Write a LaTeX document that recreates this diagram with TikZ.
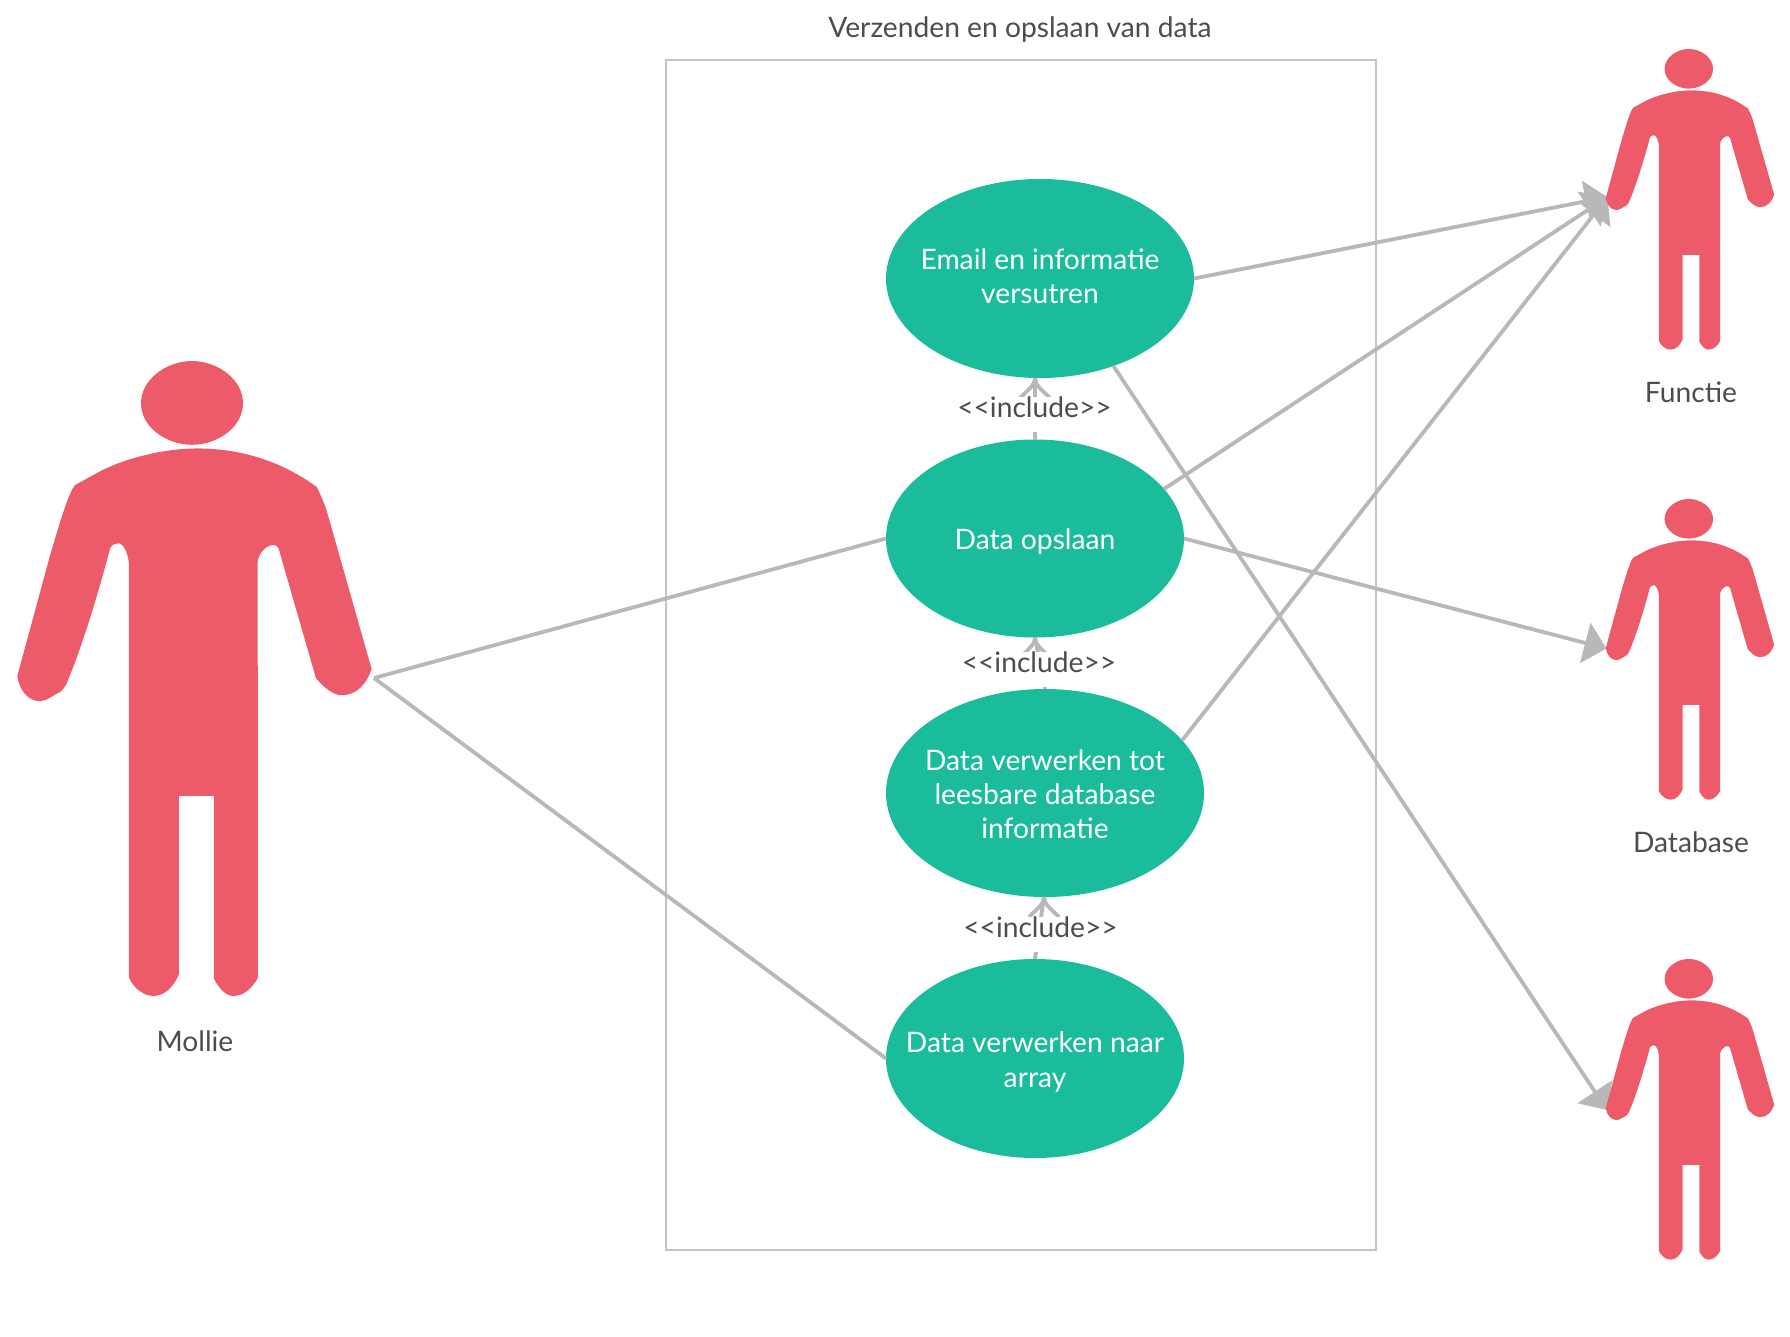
\documentclass[tikz,border=0pt]{standalone}
\usepackage{fontspec}
\setmainfont{Lato}
\usetikzlibrary{arrows.meta,shapes.geometric,calc}
\definecolor{actorred}{HTML}{ED5B6B}
\definecolor{casegreen}{HTML}{1ABC9C}
\definecolor{linegrey}{HTML}{B8B8B8}
\definecolor{boxgrey}{HTML}{C4C4C4}
\definecolor{textgrey}{HTML}{4D4D4D}
\tikzset{
  x=1pt,y=-1pt,
  usecase/.style={ellipse,fill=casegreen,inner sep=0pt,outer sep=0pt},
  casetext/.style={text=white,inner sep=0pt,align=center,font=\fontsize{28.2}{34.2}\selectfont},
  lab/.style={text=textgrey,inner sep=0pt,align=center,font=\fontsize{28.2}{34.2}\selectfont},
  inclab/.style={lab,fill=white,minimum height=35pt,inner xsep=4pt},
  conn/.style={draw=linegrey,line width=3.8pt},
  assoc/.style={conn,-{Triangle[length=22pt,width=41pt]},shorten >=0pt},
  wingline/.style={draw=linegrey,line width=3.8pt,line cap=butt},
  actorshape/.pic={
    \fill[actorred] (423,137) .. controls (423,85) and (500,45) .. (576,45) .. controls (652,45) and (729,85) .. (729,137) .. controls (729,190) and (652,228) .. (576,228) .. controls (500,228) and (423,190) .. (423,137) -- cycle;
    \fill[actorred] (225,316) -- (295,288) .. controls (380,255) and (500,236) .. (590,236) .. controls (720,236) and (840,262) .. (950,320) .. controls (960,335) and (970,350) .. (980,372) -- (1115,718) .. controls (1100,750) and (1070,775) .. (1025,775) .. controls (995,775) and (965,752) .. (948,738) -- (836,455) .. controls (830,440) and (785,445) .. (773,482) -- (774,1392) .. controls (755,1417) and (730,1432) .. (700,1432) .. controls (675,1432) and (655,1412) .. (642,1395) -- (642,995) -- (537,995) -- (537,1385) .. controls (520,1412) and (495,1432) .. (460,1432) .. controls (430,1432) and (400,1414) .. (387,1392) -- (387,490) .. controls (385,465) and (370,443) .. (355,443) .. controls (345,443) and (335,447) .. (331,453) .. controls (290,565) and (245,670) .. (205,740) .. controls (195,760) and (185,765) .. (180,768) .. controls (160,775) and (140,788) .. (120,788) .. controls (85,788) and (58,765) .. (52,733) -- (150,470) .. controls (185,385) and (205,335) .. (225,316) -- cycle;
  }
}
\newcommand{\wings}[1]{%
  \draw[wingline] (#1) .. controls ($(#1)+(0,7)$) and ($(#1)+(-6,11)$) .. ($(#1)+(-15,20)$);
  \draw[wingline] (#1) .. controls ($(#1)+(0,7)$) and ($(#1)+(6,11)$) .. ($(#1)+(15,20)$);
}
\newcommand{\inctext}{\smash{\raisebox{-2.5pt}{<{}<include>{}>}}}
\begin{document}
\begin{tikzpicture}
\useasboundingbox (0,0) rectangle (1790,1336);
\fill[white] (0,0) rectangle (1790,1336);
% system boundary
\node[draw=boxgrey,line width=1.8pt,minimum width=710pt,minimum height=1190pt,inner sep=0pt] (sys) at (1021,655) {};
\node[lab] (title) at (1020,30) {Verzenden en opslaan van data};
% use cases
\node[usecase,minimum width=308pt,minimum height=199pt] (em) at (1040,278.5) {};
\node[casetext] (emt) at (1040,276) {Email en informatie\\versutren};
\node[usecase,minimum width=298pt,minimum height=198pt] (op) at (1035,538.5) {};
\node[casetext] (opt) at (1035,542) {Data opslaan};
\node[usecase,minimum width=318pt,minimum height=208pt] (vw) at (1045,793) {};
\node[casetext] (vwt) at (1045,794) {Data verwerken tot\\leesbare database\\informatie};
\node[usecase,minimum width=298pt,minimum height=199pt] (ar) at (1035,1058.5) {};
\node[casetext] (art) at (1035,1062) {Data verwerken naar\\array};
% anchors on the actors
\coordinate (mh) at (374,678);
\coordinate (fh) at (1607.5,197);
\coordinate (dh) at (1606.5,648.5);
\coordinate (xh) at (1607,1110);
% associations
\draw[conn] (mh) -- (op.west);
\draw[conn] (mh) -- (ar.west);
\draw[assoc] (em.east) -- (fh);
\draw[assoc] (op.21) -- (fh);
\draw[assoc] (vw.21) -- (fh);
\draw[assoc] (op.east) -- (dh);
\draw[assoc] (em.-50) -- (xh);
% includes
\coordinate (i1) at (op.north |- em.south);
\coordinate (i2) at (op.south);
\coordinate (i3) at (1044,897);
\draw[conn] (op.north) -- (i1);
\draw[conn] (vw.north) -- (i2);
\draw[conn] (ar.north) -- (i3);
\wings{i1}
\wings{i2}
\wings{i3}
\node[inclab] (l1) at (1034.5,414.5) {\inctext};
\node[inclab] (l2) at (1039,669.5) {\inctext};
\node[inclab] (l3) at (1040.5,934.5) {\inctext};
% actors
\pic[xscale=1/3,yscale=.4578] at (0,340.4) {actorshape};
\pic[xscale=.1585,yscale=.2168] at (1597.5,39.2) {actorshape};
\pic[xscale=.1585,yscale=.2168] at (1597.5,489.2) {actorshape};
\pic[xscale=.1585,yscale=.2168] at (1597.5,949.2) {actorshape};
\node[lab] (mollie) at (195,1041) {Mollie};
\node[lab] (functie) at (1691,392.5) {Functie};
\node[lab] (database) at (1691,842.5) {Database};
\end{tikzpicture}
\end{document}
